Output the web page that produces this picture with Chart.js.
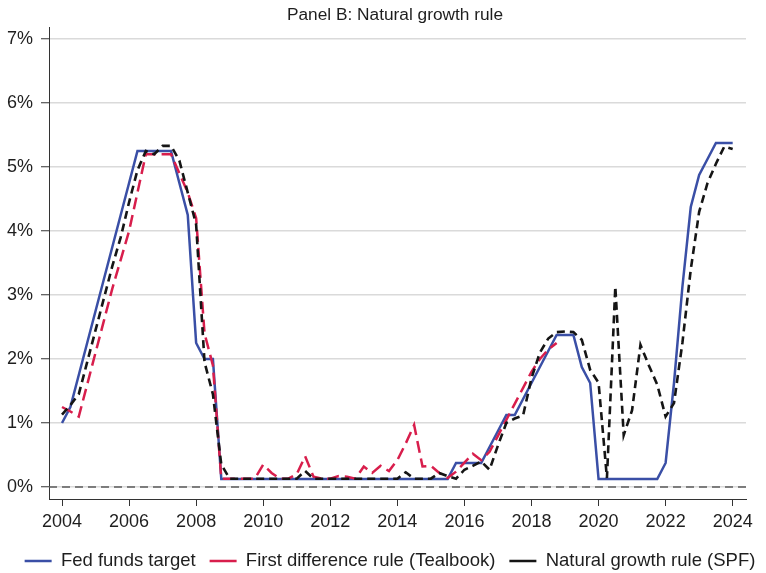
<!DOCTYPE html>
<html><head><meta charset="utf-8">
<script src="https://cdn.jsdelivr.net/npm/chart.js@4.4.1/dist/chart.umd.min.js"></script>
<style>html,body{margin:0;padding:0;background:#fff}</style>
</head><body>
<canvas id="c" width="766" height="573" style="display:block;width:766px;height:573px"></canvas>
<script>
// Quarter dates (decimal years)
const quarters = [
  2004.00, 2004.25, 2004.50, 2004.75, 2005.00, 2005.25, 2005.50, 2005.75,
  2006.00, 2006.25, 2006.50, 2006.75, 2007.00, 2007.25, 2007.50, 2007.75,
  2008.00, 2008.25, 2008.50, 2008.75, 2009.00, 2009.25, 2009.50, 2009.75,
  2010.00, 2010.25, 2010.50, 2010.75, 2011.00, 2011.25, 2011.50, 2011.75,
  2012.00, 2012.25, 2012.50, 2012.75, 2013.00, 2013.25, 2013.50, 2013.75,
  2014.00, 2014.25, 2014.50, 2014.75, 2015.00, 2015.25, 2015.50, 2015.75,
  2016.00, 2016.25, 2016.50, 2016.75, 2017.00, 2017.25, 2017.50, 2017.75,
  2018.00, 2018.25, 2018.50, 2018.75, 2019.00, 2019.25, 2019.50, 2019.75,
  2020.00, 2020.25, 2020.50, 2020.75, 2021.00, 2021.25, 2021.50, 2021.75,
  2022.00, 2022.25, 2022.50, 2022.75, 2023.00, 2023.25, 2023.50, 2023.75,
  2024.00
];

const fedFundsTarget = [
  1.00, 1.25, 1.75, 2.25, 2.75, 3.25, 3.75, 4.25,
  4.75, 5.25, 5.25, 5.25, 5.25, 5.25, 4.75, 4.25,
  2.25, 2.00, 2.00, 0.125, 0.125, 0.125, 0.125, 0.125,
  0.125, 0.125, 0.125, 0.125, 0.125, 0.125, 0.125, 0.125,
  0.125, 0.125, 0.125, 0.125, 0.125, 0.125, 0.125, 0.125,
  0.125, 0.125, 0.125, 0.125, 0.125, 0.125, 0.125, 0.375,
  0.375, 0.375, 0.375, 0.625, 0.875, 1.125, 1.125, 1.375,
  1.625, 1.875, 2.125, 2.375, 2.375, 2.375, 1.875, 1.625,
  0.125, 0.125, 0.125, 0.125, 0.125, 0.125, 0.125, 0.125,
  0.375, 1.625, 3.125, 4.375, 4.875, 5.125, 5.375, 5.375,
  5.375
];

const firstDifferenceRule = [
  1.25, 1.18, 1.10, 1.60, 2.10, 2.60, 3.10, 3.55,
  4.00, 4.60, 5.20, 5.20, 5.20, 5.20, 4.90, 4.60,
  4.20, 2.40, 1.90, 0.13, 0.13, 0.13, 0.13, 0.13,
  0.35, 0.22, 0.13, 0.13, 0.20, 0.48, 0.16, 0.13,
  0.13, 0.17, 0.16, 0.13, 0.32, 0.22, 0.33, 0.25,
  0.42, 0.68, 0.97, 0.32, 0.33, 0.22, 0.14, 0.24,
  0.38, 0.52, 0.42, 0.55, 0.80, 1.05, 1.30, 1.55,
  1.80, 2.00, 2.15, 2.25, null, null, null, null,
  null, null, null, null, null, null, null, null,
  null, null, null, null, null, null, null, null,
  null
];

const naturalGrowthRule = [
  1.13, 1.28, 1.45, 1.95, 2.45, 2.95, 3.45, 3.90,
  4.45, 4.95, 5.25, 5.20, 5.33, 5.33, 5.10, 4.60,
  4.10, 1.95, 1.45, 0.35, 0.13, 0.13, 0.13, 0.13,
  0.13, 0.13, 0.13, 0.13, 0.13, 0.25, 0.13, 0.13,
  0.13, 0.13, 0.13, 0.13, 0.13, 0.13, 0.13, 0.13,
  0.13, 0.23, 0.13, 0.13, 0.13, 0.22, 0.17, 0.13,
  0.27, 0.33, 0.40, 0.27, 0.65, 1.00, 1.07, 1.12,
  1.70, 2.10, 2.32, 2.42, 2.43, 2.42, 2.30, 1.83,
  1.63, 0.14, 3.13, 0.81, 1.20, 2.22, 1.90, 1.60,
  1.10, 1.31, 2.25, 3.40, 4.30, 4.75, 5.05, 5.32,
  5.28
];

const xTickValues = [2004, 2006, 2008, 2010, 2012, 2014, 2016, 2018, 2020, 2022, 2024];
const yTickValues = [0, 1, 2, 3, 4, 5, 6, 7];

const FONT = '"Liberation Sans", Arial, Helvetica, sans-serif';
const TXT = '#1e1e1e';

const zeroLine = {
  id: 'zeroLine',
  beforeDatasetsDraw(chart) {
    const {ctx, chartArea, scales} = chart;
    const py = scales.y.getPixelForValue(0);
    ctx.save();
    ctx.strokeStyle = '#5c5c5c';
    ctx.lineWidth = 1.6;
    ctx.setLineDash([8, 5]);
    ctx.beginPath();
    ctx.moveTo(chartArea.left, py);
    ctx.lineTo(chartArea.right, py);
    ctx.stroke();
    ctx.restore();
  }
};

// Centre title and legend on the plot region rather than on the whole canvas
const recentre = {
  id: 'recentre',
  afterLayout(chart) {
    if (chart.titleBlock) { chart.titleBlock.left += 12; chart.titleBlock.right += 12; }
    if (chart.legend) { chart.legend.left += 7; chart.legend.right += 7; }
  }
};

new Chart(document.getElementById('c'), {
  type: 'line',
  data: {
    labels: quarters,
    datasets: [
      { label: 'Fed funds target', data: fedFundsTarget, borderColor: '#3a4fa6', backgroundColor: '#3a4fa6',
        borderWidth: 2.5, pointRadius: 0, tension: 0, order: 2 },
      { label: 'First difference rule (Tealbook)', data: firstDifferenceRule, borderColor: '#d81e4c', backgroundColor: '#d81e4c',
        borderWidth: 2.5, borderDash: [12, 6], pointRadius: 0, tension: 0, order: 1 },
      { label: 'Natural growth rule (SPF)', data: naturalGrowthRule, borderColor: '#151515', backgroundColor: '#151515',
        borderWidth: 2.6, borderDash: [8, 5], pointRadius: 0, tension: 0, order: 0 }
    ]
  },
  options: {
    responsive: false,
    animation: false,
    devicePixelRatio: 1,
    layout: { padding: { left: 0, right: 0, top: 0, bottom: -7.25 } },
    plugins: {
      title: { display: true, text: 'Panel B: Natural growth rule', color: TXT,
        font: { family: FONT, size: 17.3, weight: 'normal' }, padding: { top: 5, bottom: 1.24 } },
      legend: { position: 'bottom',
        labels: { color: TXT, font: { family: FONT, size: 18.5 }, usePointStyle: true, pointStyle: 'line',
          pointStyleWidth: 27, boxHeight: 18.5, padding: 14,
          sort: (a, b) => a.datasetIndex - b.datasetIndex } },
      tooltip: { enabled: false }
    },
    scales: {
      x: { type: 'linear', min: 2003.612, max: 2024.397,
        afterBuildTicks: s => { s.ticks = xTickValues.map(v => ({ value: v })); },
        afterFit: s => { s.height = 38.75; s.paddingRight = 20; },
        ticks: { color: TXT, font: { family: FONT, size: 18 }, padding: 5, maxRotation: 0, autoSkip: false,
          callback: v => String(v) },
        grid: { drawOnChartArea: false, drawTicks: true, tickLength: 7, tickColor: '#333', tickWidth: 1 },
        border: { display: true, color: '#333', width: 1 } },
      y: { type: 'linear', min: -0.1875, max: 7.1875,
        afterBuildTicks: s => { s.ticks = yTickValues.map(v => ({ value: v })); },
        afterFit: s => { s.width = 49; },
        ticks: { color: TXT, font: { family: FONT, size: 18 }, padding: 8, callback: v => v + '%' },
        grid: { color: '#dadada', lineWidth: 1.5, drawTicks: true, tickLength: 8, tickColor: '#333', tickWidth: 1 },
        border: { display: true, color: '#333', width: 1 } }
    }
  },
  plugins: [zeroLine, recentre]
});
</script>
</body></html>
